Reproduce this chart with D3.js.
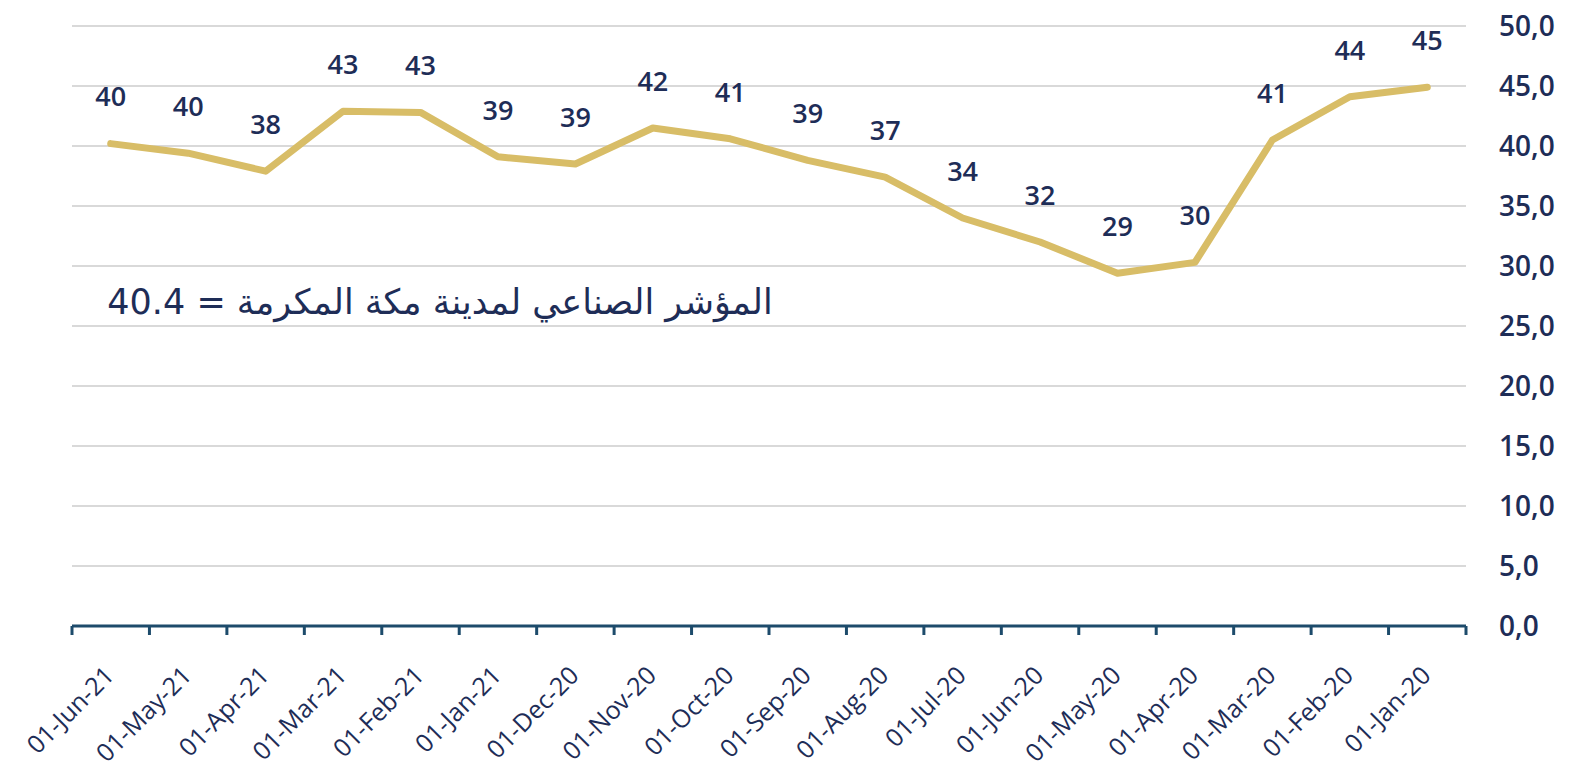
<!DOCTYPE html>
<html><head><meta charset="utf-8">
<script src="https://cdn.jsdelivr.net/npm/d3@7/dist/d3.min.js"></script>
<style>
html,body{margin:0;padding:0;background:#fff;}
svg{display:block;}
</style></head>
<body>
<svg id="chart" width="1569" height="772"></svg>
<script>
const categories = ["01-Jun-21","01-May-21","01-Apr-21","01-Mar-21","01-Feb-21","01-Jan-21","01-Dec-20","01-Nov-20","01-Oct-20","01-Sep-20","01-Aug-20","01-Jul-20","01-Jun-20","01-May-20","01-Apr-20","01-Mar-20","01-Feb-20","01-Jan-20"];
const values = [40.2,39.4,37.9,42.9,42.8,39.1,38.5,41.5,40.6,38.8,37.4,34.0,32.0,29.4,30.3,40.5,44.1,44.9];
const dataLabels = ["40","40","38","43","43","39","39","42","41","39","37","34","32","29","30","41","44","45"];
const yTicks = [0,5,10,15,20,25,30,35,40,45,50];
const yTickLabels = ["0,0","5,0","10,0","15,0","20,0","25,0","30,0","35,0","40,0","45,0","50,0"];
const annotation = "المؤشر الصناعي لمدينة مكة المكرمة = 40.4";

const navy = "#1e2d57";
const gold = "#d8bd67";
const svg = d3.select("#chart");
const x = d3.scaleBand().domain(categories).range([72,1466]).padding(0);
const y = d3.scaleLinear().domain([0,50]).range([626,26]);

// gridlines
svg.append("g").selectAll("line").data(yTicks.filter(d=>d>0)).join("line")
  .attr("x1",x.range()[0]).attr("x2",x.range()[1])
  .attr("y1",d=>y(d)).attr("y2",d=>y(d))
  .attr("stroke","#d9d9d9").attr("stroke-width",2);

// y labels (right)
svg.append("g").selectAll("text").data(yTicks).join("text")
  .attr("x",1499).attr("y",d=>y(d)).attr("dy","0.36em")
  .attr("font-family","'Open Sans', sans-serif").attr("font-size",28).attr("font-weight",600)
  .attr("fill",navy).text((d,i)=>yTickLabels[i]);

// x axis line + ticks at band edges
const axisColor = "#1d4b6b";
svg.append("line").attr("x1",x.range()[0]).attr("x2",x.range()[1])
  .attr("y1",y(0)).attr("y2",y(0)).attr("stroke",axisColor).attr("stroke-width",3);
const edges = categories.map(c=>x(c)).concat([x.range()[1]]);
svg.append("g").selectAll("line").data(edges).join("line")
  .attr("x1",d=>d).attr("x2",d=>d).attr("y1",y(0)).attr("y2",y(0)+9)
  .attr("stroke",axisColor).attr("stroke-width",3);

// x labels
svg.append("g").selectAll("text").data(categories).join("text")
  .attr("transform",d=>`translate(${x(d)+x.bandwidth()/2+5},${y(0)+51}) rotate(-45)`)
  .attr("text-anchor","end")
  .attr("font-family","'Open Sans', sans-serif").attr("font-size",25)
  .attr("fill",navy).text(d=>d);

// line
const line = d3.line().x((d,i)=>x(categories[i])+x.bandwidth()/2).y(d=>y(d));
svg.append("path").datum(values).attr("d",line)
  .attr("fill","none").attr("stroke",gold).attr("stroke-width",7)
  .attr("stroke-linejoin","round").attr("stroke-linecap","round");

// data labels
svg.append("g").selectAll("text").data(values).join("text")
  .attr("x",(d,i)=>x(categories[i])+x.bandwidth()/2)
  .attr("y",d=>y(d)-47).attr("dy","0.36em")
  .attr("text-anchor","middle")
  .attr("font-family","'Open Sans', sans-serif").attr("font-size",27).attr("font-weight",600)
  .attr("fill",navy).text((d,i)=>dataLabels[i]);

// annotation
svg.append("text").attr("x",440).attr("y",302).attr("dy","0.35em")
  .attr("text-anchor","middle").attr("direction","rtl")
  .attr("font-family","'DejaVu Sans', sans-serif").attr("font-size",35)
  .attr("fill",navy).text(annotation);
</script>
</body></html>
